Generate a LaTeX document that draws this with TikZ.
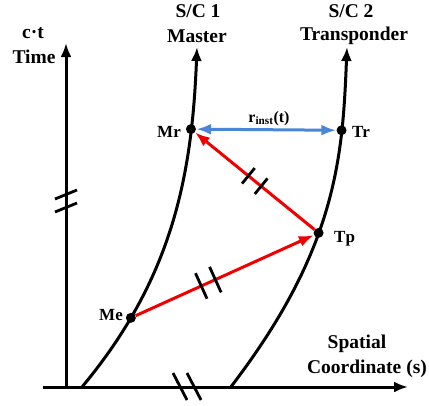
\documentclass[tikz,border=0pt]{standalone}
\usepackage{fontspec}
\setmainfont{Liberation Serif}
\usetikzlibrary{arrows.meta,calc}
\definecolor{rblue}{RGB}{74,134,214}
\definecolor{sred}{RGB}{240,0,0}
\begin{document}
\begin{tikzpicture}[x=1pt,y=-1pt,
  blk/.style={line width=3pt,black},
  tipend/.style={-{Latex[length=14pt,width=11pt]}},
  dot/.style={circle,fill=black,inner sep=0pt,minimum size=10pt},
  lbl/.style={font=\fontsize{17}{20}\selectfont\bfseries,inner sep=0pt},
  ttl/.style={font=\fontsize{19.5}{23}\selectfont\bfseries,inner sep=0pt,anchor=base},
  sig/.style={sred,line width=3pt,-{Latex[length=15pt,width=11pt]}},
  rng/.style={rblue,line width=3pt,{Latex[length=15pt,width=11pt]}-{Latex[length=15pt,width=11pt]}},
  brk/.style={black,line width=2.8pt}]
\useasboundingbox (0,0) rectangle (429,405);

% axes
\coordinate (O) at (66,387);
\coordinate (T) at (66,43);
\coordinate (X0) at (43,387);
\coordinate (X1) at (408,387);
\draw[blk,tipend] (O) -- (T);
\draw[blk,tipend] (X0) -- (X1);

% axis breaks
\draw[brk] (55,199) -- (77,190);
\draw[brk] (55,212) -- (77,203);
\draw[brk] (173,373) -- (187,400);
\draw[brk] (187,373) -- (201,400);

% world lines
\coordinate (m0) at (82,387);
\coordinate (m1) at (197,47);
\coordinate (t0) at (230,388);
\coordinate (t1) at (347,47);
\draw[blk,tipend] (m0) .. controls (172,279) and (192,177) .. (m1)
  coordinate[pos=0.215] (pMe) coordinate[pos=0.78] (pMr);
\draw[blk,tipend] (t0) .. controls (337,249) and (342.6,157) .. (t1)
  coordinate[pos=0.42] (pTp) coordinate[pos=0.74] (pTr);

% events
\node[dot] (Me) at (pMe) {};
\node[dot] (Mr) at (pMr) {};
\node[dot] (Tp) at (pTp) {};
\node[dot] (Tr) at (pTr) {};

% signals
\draw[sig] (Me) -- (Tp);
\draw[sig] (Tp) -- (Mr);
\draw[rng] (Mr) -- (Tr);

% signal breaks
\foreach \t/\n in {0.375/a,0.45/b}{
  \coordinate (s\n) at ($(pMe)!\t!(pTp)$);
  \draw[brk] ($(s\n)!14pt!90:(pTp)$) -- ($(s\n)!14pt!-90:(pTp)$);
}
\foreach \t/\n in {0.45/c,0.55/d}{
  \coordinate (s\n) at ($(pTp)!\t!(pMr)$);
  \draw[brk] ($(s\n)!10pt!90:(pMr)$) -- ($(s\n)!10pt!-90:(pMr)$);
}

% labels
\node[lbl,anchor=base east] (lMe) at (123,320) {Me};
\node[lbl,anchor=base east] (lMr) at (181,137) {Mr};
\node[lbl,anchor=base west] (lTp) at (334,242) {Tp};
\node[lbl,anchor=base west] (lTr) at (352,137) {Tr};
\node[font=\fontsize{16}{19}\selectfont\bfseries,inner sep=0pt,anchor=base] (lr) at (269,122) {r\textsubscript{inst}(t)};

\node[ttl] (ct) at (33,38) {c·t};
\node[ttl] (time) at (34,63) {Time};
\node[ttl] (sc1) at (198,17) {S/C 1};
\node[ttl] (mast) at (197,42) {Master};
\node[ttl] (sc2) at (351,17) {S/C 2};
\node[ttl] (trans) at (354,40) {Transponder};
\node[ttl] (spat) at (357,348) {Spatial};
\node[ttl] (coord) at (367,373) {Coordinate (s)};
\end{tikzpicture}
\end{document}
